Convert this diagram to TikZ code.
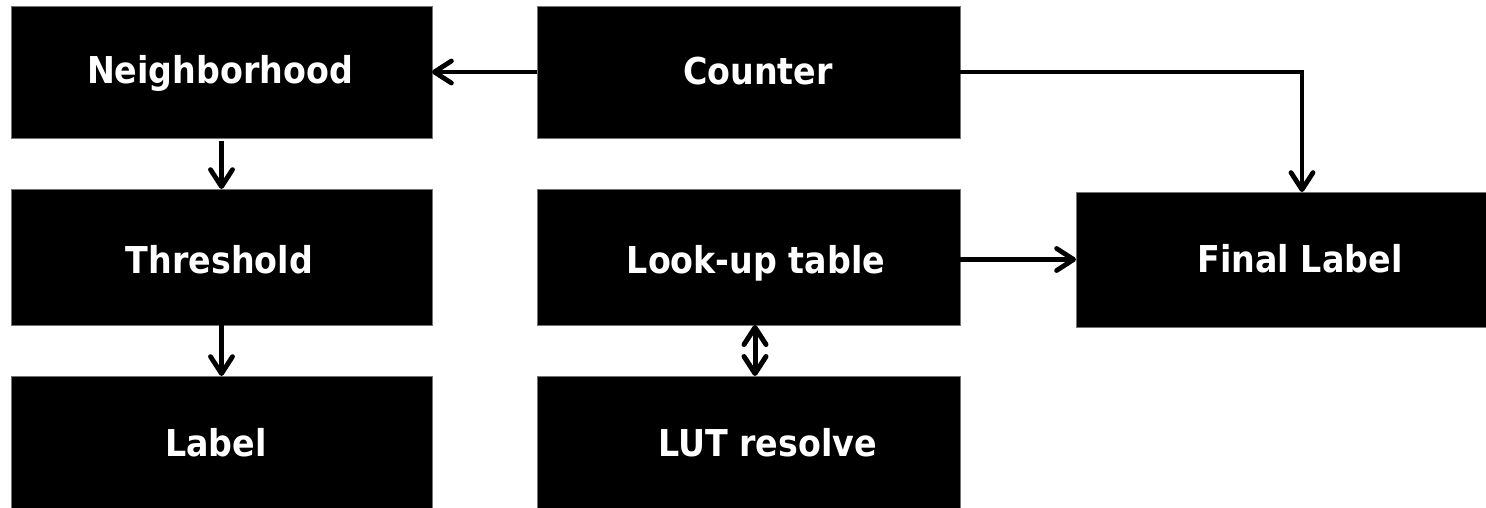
\documentclass[tikz,border=0pt]{standalone}
\usepackage{fontspec}
\setmainfont[FakeStretch=0.9]{DejaVu Sans}
\usetikzlibrary{arrows.meta}
\tikzset{
  barb/.tip={Straight Barb[length=17pt,width=22pt,round]},
  box/.style 2 args={fill=black, draw=black!55, line width=0.8pt,
    inner sep=0pt, outer sep=0pt, minimum width=#1, minimum height=#2},
  txt/.style={text=white, inner sep=0pt, anchor=base,
    font=\fontsize{37}{40}\selectfont\bfseries},
  arr/.style={-barb, line width=4.8pt},
  dbl/.style={barb-barb, line width=5pt},
}
\begin{document}
\begin{tikzpicture}[x=1pt,y=-1pt]
  \useasboundingbox (0,0) rectangle (1486,507);
  \fill[white] (0,0) rectangle (1486,507);
  \clip (0,0) rectangle (1486,507);

  % blocks
  \node[box={421pt}{132pt}] (neigh)  at (221.5,72)   {};
  \node[box={423pt}{132pt}] (counter) at (748.5,72)  {};
  \node[box={421pt}{136pt}] (thresh) at (221.5,257)  {};
  \node[box={423pt}{136pt}] (lookup) at (748.5,257)  {};
  \node[box={424pt}{135pt}] (final)  at (1288,259.5) {};
  \node[box={421pt}{136pt}] (label)  at (221.5,444)  {};
  \node[box={423pt}{136pt}] (lutres) at (748.5,444)  {};

  % block captions
  \node[txt] (neigh-t)   at (220,83.5)  {Neighborhood};
  \node[txt] (counter-t) at (758,84.5)  {Counter};
  \node[txt] (thresh-t)  at (219.5,273) {Threshold};
  \node[txt] (lookup-t)  at (756,273)   {Look-up table};
  \node[txt] (final-t)   at (1300,272.5){Final Label};
  \node[txt] (label-t)   at (216,456)   {Label};
  \node[txt] (lutres-t)  at (767.5,456) {LUT resolve};

  % connectors
  \draw[arr] (counter) -- (neigh);
  \draw[arr, shorten <=3pt] (neigh) -- (thresh);
  \draw[arr] (thresh) -- (label);
  \draw[arr] (lookup.east |- final.west) -- (final.west);
  \draw[arr] (counter.east) -| ([xshift=14pt]final.north);
  \draw[dbl] ([xshift=6.5pt]lookup.south) -- ([xshift=6.5pt]lutres.north);
\end{tikzpicture}
\end{document}
